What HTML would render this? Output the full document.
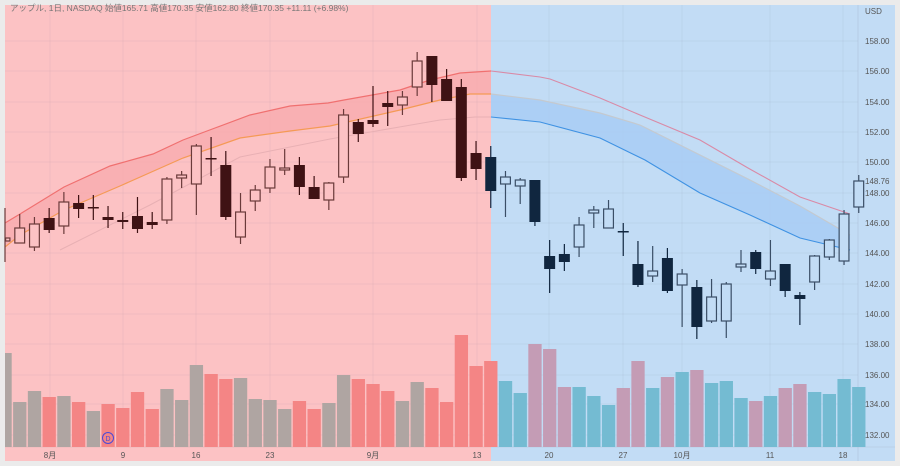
<!DOCTYPE html>
<html><head><meta charset="utf-8"><style>
html,body{margin:0;padding:0;background:#ebebeb;width:900px;height:466px;overflow:hidden}
svg{display:block;font-family:"Liberation Sans","Noto Sans CJK JP",sans-serif}
</style></head><body>
<svg id="c" width="900" height="466" viewBox="0 0 900 466" xmlns="http://www.w3.org/2000/svg">
<rect x="0" y="0" width="900" height="466" fill="#ebebeb"/>
<rect x="5" y="5" width="486" height="456" fill="#fcc2c4"/>
<rect x="491" y="5" width="404" height="456" fill="#c2dcf5"/>
<g id="grid" stroke-width="1"></g>
<path d="M5,223 L20,214 L64,187 L110,166 L153,154 L183,140 L215,128 L250,115 L290,106 L328,103 L344,100 L400,90 L430,80 L460,73 L491,71 L491,94 L470,94 L440,100 L400,110 L330,126 L290,131 L240,138 L183,158 L120,186 L64,210 L20,235 L5,247 Z" fill="#f8a9ad" opacity="0.75"/>
<path d="M5,223 L20,214 L64,187 L110,166 L153,154 L183,140 L215,128 L250,115 L290,106 L328,103 L344,100 L400,90 L430,80 L460,73 L491,71" fill="none" stroke="#f07070" stroke-width="1.2"/>
<path d="M5,247 L20,235 L64,210 L120,186 L183,158 L240,138 L290,131 L330,126 L400,110 L440,100 L470,94 L491,94" fill="none" stroke="#f59a55" stroke-width="1.2"/>
<path d="M60,250 L150,205 L240,157 L330,139 L440,120 L475,117 L491,117" fill="none" stroke="#e8b0b4" stroke-width="1"/>
<path d="M491,94 L540,100 L600,113 L640,125 L690,150 L750,180 L800,206 L850,235 L850,250 L800,238 L750,215 L700,193 L645,160 L600,138 L540,122 L491,117 Z" fill="#a8cdf4" opacity="0.85"/>
<path d="M491,71 L540,77 L550,79 L600,98 L640,115 L700,140 L748,168 L800,197 L850,214" fill="none" stroke="#d98aa6" stroke-width="1.1"/>
<path d="M491,94 L540,100 L600,113 L640,125 L690,150 L750,180 L800,206 L850,235" fill="none" stroke="#c4c9cf" stroke-width="1.2"/>
<path d="M491,117 L540,122 L600,138 L645,160 L700,193 L750,215 L800,238 L850,250" fill="none" stroke="#3f92e3" stroke-width="1.1"/>
<g id="vol"></g>
<g id="cand"></g>
<circle cx="108" cy="438" r="5.5" fill="none" stroke="#4a4ad8" stroke-width="1"/>
<text x="108" y="441" font-size="7" fill="#4a4ad8" text-anchor="middle">D</text>
<text x="10" y="11" font-size="8.5" fill="#777">アップル, 1日, NASDAQ  始値165.71  高値170.35  安値162.80  終値170.35  +11.11 (+6.98%)</text>
<g id="lbl" font-size="8" fill="#555"></g>
</svg>
<script>
var ns="http://www.w3.org/2000/svg";
function el(p,t,a,txt){var e=document.createElementNS(ns,t);for(var k in a)e.setAttribute(k,a[k]);if(txt)e.textContent=txt;document.getElementById(p).appendChild(e);return e;}
function cx(k){return 5+14.72*k;}
// grid
[41,71,102,132,162,193,223,253,284,314,344,375,404,435].forEach(function(y){el("grid","line",{x1:5,x2:858,y1:y,y2:y,stroke:"rgba(120,120,140,0.08)"});});
var dates=[[50,"8月"],[123,"9"],[196,"16"],[270,"23"],[373,"9月"],[477,"13"],[549,"20"],[623,"27"],[682,"10月"],[770,"11"],[843,"18"]];
dates.forEach(function(d){el("grid","line",{x1:d[0],x2:d[0],y1:5,y2:447,stroke:"rgba(120,120,140,0.08)"});el("lbl","text",{x:d[0],y:458,"text-anchor":"middle"},d[1]);});
el("grid","line",{x1:858,x2:858,y1:5,y2:461,stroke:"rgba(120,120,140,0.15)"});
el("grid","line",{x1:5,x2:895,y1:447,y2:447,stroke:"rgba(120,120,140,0.12)"});
[[41,"158.00"],[71,"156.00"],[102,"154.00"],[132,"152.00"],[162,"150.00"],[181,"148.76"],[193,"148.00"],[223,"146.00"],[253,"144.00"],[284,"142.00"],[314,"140.00"],[344,"138.00"],[375,"136.00"],[404,"134.00"],[435,"132.00"],[11,"USD"]].forEach(function(p){el("lbl","text",{x:865,y:p[0]+3},p[1]);});
// volume: top, color code g=gray r=red b=blue p=pink
var vol=[[353,"g"],[402,"g"],[391,"g"],[397,"r"],[396,"g"],[402,"r"],[411,"g"],[404,"r"],[408,"r"],[392,"r"],[409,"r"],[389,"g"],[400,"g"],[365,"g"],[374,"r"],[379,"r"],[378,"g"],[399,"g"],[400,"g"],[409,"g"],[401,"r"],[409,"r"],[403,"g"],[375,"g"],[379,"r"],[384,"r"],[391,"r"],[401,"g"],[382,"g"],[388,"r"],[402,"r"],[335,"r"],[366,"r"],[361,"r"],
[381,"b"],[393,"b"],[344,"p"],[349,"p"],[387,"p"],[387,"b"],[396,"b"],[405,"b"],[388,"p"],[361,"p"],[388,"b"],[377,"p"],[372,"b"],[370,"p"],[383,"b"],[381,"b"],[398,"b"],[401,"p"],[396,"b"],[388,"p"],[384,"p"],[392,"b"],[394,"b"],[379,"b"],[387,"b"]];
var vc={g:"#afa5a2",r:"#f48585",b:"#74bbd2",p:"#c49cb5"};
vol.forEach(function(v,k){var x=cx(k)-6.6,w=13.3;if(x<5){w-=5-x;x=5;}el("vol","rect",{x:x,y:v[0],width:w,height:447-v[0],fill:vc[v[1]]});});
// candles: k, bodyTop, bodyBot, wickTop, wickBot, filled
var c=[[0,238,241,208,262,0],[1,228,243,214,243,0],[2,224,247,217,251,0],[3,218,230,208,233,1],[4,202,226,192,234,0],[5,203,209,195,218,1],[6,207,208.5,195,220,1],[7,217,220,206,228,1],[8,220,222,212,229,1],[9,216,229,197,233,1],[10,222,225,212,229,1],[11,179,220,177,224,0],[12,175,178,171,188,0],[13,146,184,144,215,0],[14,158,159.5,137,176,1],[15,165,217,151,220,1],[16,212,237,193,244,0],
[17,190,201,185,211,0],[18,167,188,159,193,0],[19,168,170,149,175,0],[20,165,187,157,195,1],[21,187,199,176,199,1],[22,183,200,182,210,0],[23,115,177,109,183,0],[24,122,134,119,142,1],[25,120,124,86,127,1],[26,103,107,91,126,1],[27,97,105,91,115,0],[28,61,87,52,96,0],[29,56,85,56,102,1],[30,79,101,69,101,1],[31,87,178,79,181,1],[32,153,169,141,180,1],[33,157,191,146,208,1],
[34,177,184,171,217,0],[35,180,186,178,204,0],[36,180,222,180,226,1],[37,256,269,240,293,1],[38,254,262,244,271,1],[39,225,247,217,257,0],[40,210,213,206,228,0],[41,209,228,200,228,0],[42,231,232.5,223,256,1],[43,264,285,241,287,1],[44,271,276,246,282,0],[45,258,291,248,293,1],[46,274,285,269,327,0],[47,287,327,280,339,1],[48,297,321,279,323,0],[49,284,321,282,338,0],[50,264,267,250,272,0],[51,252,269,250,274,1],[52,271,279,240,286,0],[53,264,291,264,297,1],[54,295,299,292,325,1],[55,256,282,255,290,0],[56,240,257,239,260,0],[57,214,261,210,265,0],[58,181,207,175,213,0]];
c.forEach(function(d){var x=cx(d[0]);var blue=x>=490;var dark=blue?"#10263f":"#3f1214";var line=blue?"#3a4e66":"#6a3a3a";
el("cand","line",{x1:x,x2:x,y1:d[3],y2:d[4],stroke:d[5]?dark:line,"stroke-width":1.2});
var bx=x-5.5,bw=11;if(bx<5){bw-=5-bx;bx=5;}
if(d[5])el("cand","rect",{x:bx,y:d[1],width:bw,height:Math.max(d[2]-d[1],1.5),fill:dark});
else el("cand","rect",{x:bx+0.6,y:d[1],width:bw-1.2,height:Math.max(d[2]-d[1],1.5),fill:blue?"#c2dcf5":"#fcc2c4",stroke:line,"stroke-width":1.2});});
</script>
</body></html>
